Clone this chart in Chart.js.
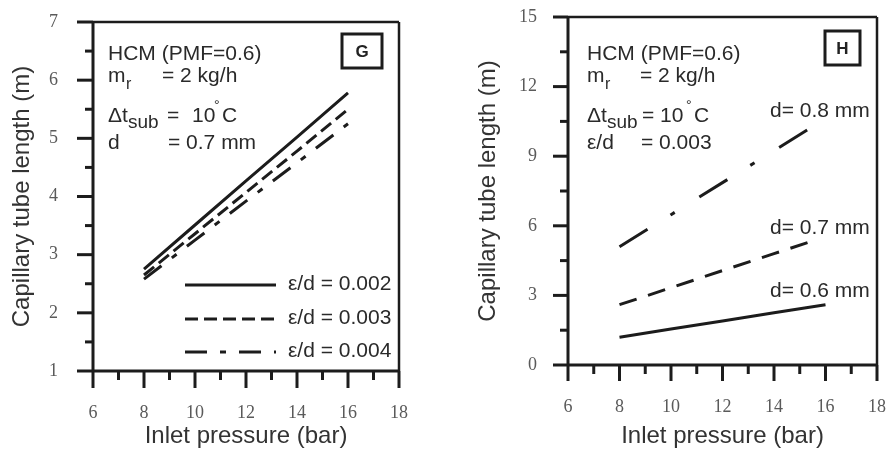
<!DOCTYPE html>
<html>
<head>
<meta charset="utf-8">
<script src="https://cdn.jsdelivr.net/npm/chart.js@4.4.1/dist/chart.umd.min.js"></script>
<style>
  body { margin: 0; background: #fff; width: 890px; height: 451px; overflow: hidden; position: relative; }
  .panel { position: absolute; top: 0; width: 445px; height: 451px; }
</style>
</head>
<body>
<div class="panel" style="left:0"><canvas id="chartG"></canvas></div>
<div class="panel" style="left:445px"><canvas id="chartH"></canvas></div>
<script>
// panel G : d = 0.7 mm, three roughness values
var pressureG = [8, 10, 12, 14, 16];
var eps002 = [2.75, 3.51, 4.27, 5.02, 5.78];
var eps003 = [2.65, 3.36, 4.07, 4.78, 5.50];
var eps004 = [2.58, 3.25, 3.92, 4.58, 5.25];
var labelsG = ['ε/d = 0.002', 'ε/d = 0.003', 'ε/d = 0.004'];

// panel H : e/d = 0.003, three diameters
var pressureH06 = [8, 10, 12, 14, 16];
var d06 = [1.2, 1.55, 1.9, 2.25, 2.6];
var pressureH07 = [8, 10, 12, 14, 15.5];
var d07 = [2.6, 3.33, 4.07, 4.8, 5.35];
var pressureH08 = [8, 10, 12, 14, 15.5];
var d08 = [5.1, 6.48, 7.86, 9.24, 10.28];
var labelsH = ['d= 0.6 mm', 'd= 0.7 mm', 'd= 0.8 mm'];

var xTicks = [6, 8, 10, 12, 14, 16, 18];
var yTicksG = [1, 2, 3, 4, 5, 6, 7];
var yTicksH = [0, 3, 6, 9, 12, 15];

var ink = '#1c1c1c';
var sans = 'Liberation Sans, Arial, sans-serif';
var serif = 'Liberation Serif, Times New Roman, serif';
Chart.defaults.font.family = sans;

function pts(xs, ys) {
  return xs.map(function(x, i) { return { x: x, y: ys[i] }; });
}

function line(ctx, x1, y1, x2, y2) {
  ctx.beginPath(); ctx.moveTo(x1, y1); ctx.lineTo(x2, y2); ctx.stroke();
}

// frame + major/minor tick marks, drawn from the chart's own scales
function frameTicks(yMajor, majX, minX, majY, minY) {
  return {
    id: 'frameTicks',
    afterDraw: function(chart) {
      var ctx = chart.ctx, a = chart.chartArea, sx = chart.scales.x, sy = chart.scales.y;
      ctx.save();
      ctx.strokeStyle = ink;
      ctx.lineWidth = 3;
      ctx.setLineDash([]);
      sx.ticks.forEach(function(t) {
        var p = sx.getPixelForValue(t.value);
        line(ctx, p, a.bottom, p, a.bottom + (xTicks.indexOf(t.value) >= 0 ? majX : minX));
      });
      sy.ticks.forEach(function(t) {
        var p = sy.getPixelForValue(t.value);
        line(ctx, a.left, p, a.left - (yMajor.indexOf(t.value) >= 0 ? majY : minY), p);
      });
      line(ctx, a.left, a.top, a.left, a.bottom);
      line(ctx, a.left, a.bottom, a.right, a.bottom);
      ctx.lineWidth = 2.5;
      line(ctx, a.left, a.top, a.right, a.top);
      line(ctx, a.right, a.top, a.right, a.bottom);
      ctx.restore();
    }
  };
}

function txt(ctx, s, x, y, size) {
  ctx.font = size + 'px ' + sans;
  ctx.fillText(s, x, y);
}

// p: positions of the pieces of the four-line note
function header(ctx, p, lastName, lastVal) {
  ctx.fillStyle = '#2a2a2a';
  txt(ctx, 'HCM (PMF=0.6)', p.x, 60, 21);
  txt(ctx, 'm', p.x, 82, 21);
  txt(ctx, 'r', p.x + 18, 89, 16);
  txt(ctx, '= 2 kg/h', p.eq1, 82, 21);
  txt(ctx, 'Δt', p.x, 122, 21);
  txt(ctx, 'sub', p.x + 20, 128, 19);
  txt(ctx, '=', p.eq2, 122, 21);
  txt(ctx, '10', p.ten, 122, 21);
  txt(ctx, '°', p.deg, 110, 14);
  txt(ctx, 'C', p.c, 122, 21);
  txt(ctx, lastName, p.x, 149, 21);
  txt(ctx, lastVal, p.eq3, 149, 21);
}

function tagBox(ctx, x, y, w, h, letter) {
  ctx.strokeStyle = ink;
  ctx.lineWidth = 3;
  ctx.setLineDash([]);
  ctx.strokeRect(x, y, w, h);
  ctx.fillStyle = '#222';
  ctx.font = 'bold 17px ' + sans;
  ctx.textAlign = 'center';
  ctx.textBaseline = 'middle';
  ctx.fillText(letter, x + w / 2, y + h / 2 + 1);
  ctx.textAlign = 'left';
  ctx.textBaseline = 'alphabetic';
}

var notesG = {
  id: 'notesG',
  afterDraw: function(chart) {
    var ctx = chart.ctx;
    ctx.save();
    header(ctx, { x: 108, eq1: 162, eq2: 167, ten: 192, deg: 214, c: 222, eq3: 168 }, 'd', '= 0.7 mm');
    tagBox(ctx, 342, 34, 40, 34, 'G');
    // legend built from the datasets
    var rows = [285, 319, 352];
    chart.data.datasets.forEach(function(ds, i) {
      ctx.strokeStyle = ink;
      ctx.lineWidth = 3;
      ctx.setLineDash(ds.borderDash || []);
      line(ctx, 185, rows[i], 276, rows[i]);
      ctx.setLineDash([]);
      ctx.fillStyle = '#2a2a2a';
      txt(ctx, ds.label, 288, rows[i] + 5, 21);
    });
    ctx.restore();
  }
};

var notesH = {
  id: 'notesH',
  afterDraw: function(chart) {
    var ctx = chart.ctx;
    ctx.save();
    header(ctx, { x: 142, eq1: 195, eq2: 197, ten: 215, deg: 241, c: 249, eq3: 196 }, 'ε/d', '= 0.003');
    tagBox(ctx, 380, 31, 35, 34, 'H');
    var rows = [297, 234, 117];
    ctx.fillStyle = '#2a2a2a';
    chart.data.datasets.forEach(function(ds, i) {
      txt(ctx, ds.label, 325, rows[i], 21);
    });
    ctx.restore();
  }
};

// invisible tick marks only push the labels away from the axis
var hiddenGrid = function(len) {
  return { display: true, drawOnChartArea: false, drawTicks: true, tickLength: len, color: 'rgba(0,0,0,0)' };
};

function xAxis(h) {
  return {
    type: 'linear', min: 6, max: 18,
    grid: hiddenGrid(29),
    border: { display: false },
    ticks: {
      stepSize: 1, autoSkip: false, maxRotation: 0, padding: 2,
      color: '#5a5a5a', font: { family: serif, size: 18 },
      callback: function(v) { return xTicks.indexOf(v) >= 0 ? String(v) : ''; }
    },
    title: { display: true, text: 'Inlet pressure (bar)', color: '#333', font: { size: 24 }, padding: 0 },
    afterFit: function(s) { s.height = h; }
  };
}

function yAxis(min, max, step, major, len, w) {
  return {
    type: 'linear', min: min, max: max,
    grid: hiddenGrid(len),
    border: { display: false },
    ticks: {
      stepSize: step, autoSkip: false, padding: 2,
      color: '#5a5a5a', font: { family: serif, size: 18 },
      callback: function(v) { return major.indexOf(v) >= 0 ? String(v) : ''; }
    },
    title: { display: true, text: 'Capillary tube length (m)', color: '#333', font: { size: 24 }, padding: 0 },
    afterFit: function(s) { s.width = w; }
  };
}

var baseLine = { borderColor: ink, borderWidth: 3, pointRadius: 0, tension: 0, fill: false };

new Chart(document.getElementById('chartG'), {
  type: 'line',
  data: {
    datasets: [
      Object.assign({ label: labelsG[0], data: pts(pressureG, eps002) }, baseLine),
      Object.assign({ label: labelsG[1], data: pts(pressureG, eps003), borderDash: [13, 6] }, baseLine),
      Object.assign({ label: labelsG[2], data: pts(pressureG, eps004), borderDash: [22, 13, 6, 13] }, baseLine)
    ]
  },
  options: {
    responsive: true, maintainAspectRatio: false, animation: false,
    layout: { padding: { left: 8, right: 46, top: 22, bottom: 0 } },
    plugins: { legend: { display: false }, tooltip: { enabled: false } },
    scales: { x: xAxis(80), y: yAxis(1, 7, 0.5, yTicksG, 33, 85) }
  },
  plugins: [frameTicks(yTicksG, 17, 9, 16, 8), notesG]
});

new Chart(document.getElementById('chartH'), {
  type: 'line',
  data: {
    datasets: [
      Object.assign({ label: labelsH[0], data: pts(pressureH06, d06) }, baseLine),
      Object.assign({ label: labelsH[1], data: pts(pressureH07, d07), borderDash: [18, 12] }, baseLine),
      Object.assign({ label: labelsH[2], data: pts(pressureH08, d08), borderDash: [33, 27, 5, 29] }, baseLine)
    ]
  },
  options: {
    responsive: true, maintainAspectRatio: false, animation: false,
    layout: { padding: { left: 29, right: 13, top: 17, bottom: 0 } },
    plugins: { legend: { display: false }, tooltip: { enabled: false } },
    scales: { x: xAxis(86), y: yAxis(0, 15, 1.5, yTicksH, 29, 94) }
  },
  plugins: [frameTicks(yTicksH, 16, 9, 15, 8), notesH]
});
</script>
</body>
</html>
